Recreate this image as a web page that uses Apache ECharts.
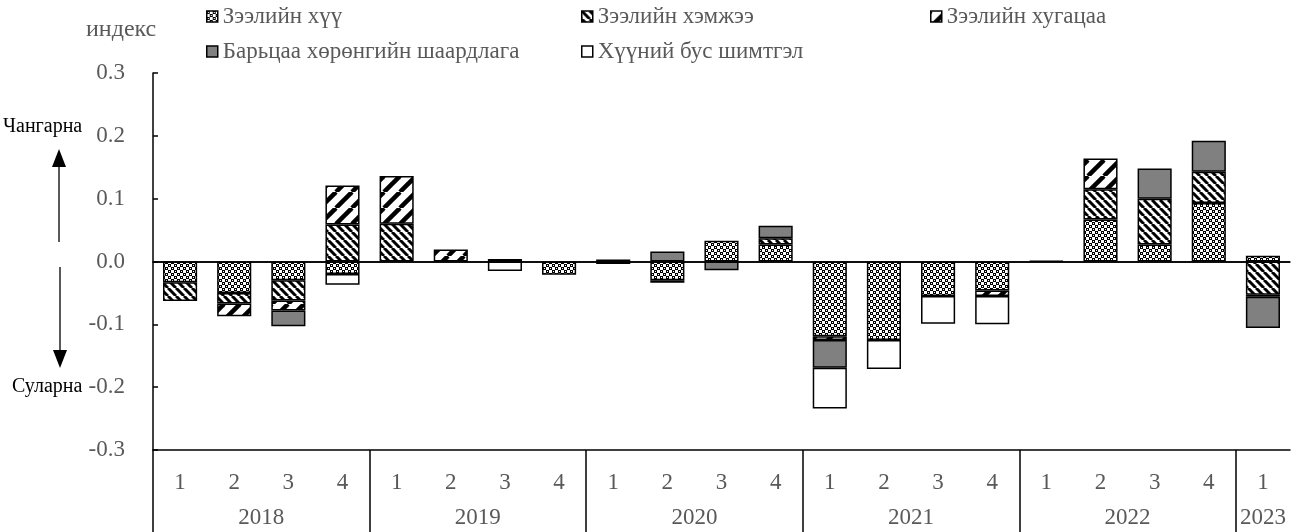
<!DOCTYPE html>
<html>
<head>
<meta charset="utf-8">
<script src="https://cdn.jsdelivr.net/npm/echarts@6/dist/echarts.min.js"></script>
<style>
html,body{margin:0;padding:0;background:#fff;}
#c{width:1293px;height:532px;}
</style>
</head>
<body>
<div id="c"></div>
<script>
// ---- data ----
const quarters = ['1','2','3','4','1','2','3','4','1','2','3','4','1','2','3','4','1','2','3','4','1'];
const years = ['2018','2019','2020','2021','2022','2023'];
const seriesNames = ['Зээлийн хүү','Зээлийн хэмжээ','Зээлийн хугацаа','Барьцаа хөрөнгийн шаардлага','Хүүний бус шимтгэл'];
const interestRate = [-0.033,-0.050,-0.030,-0.020, null,null,null,-0.021, null,-0.030,0.033,0.027, -0.119,-0.125,-0.055,-0.046, null,0.067,0.027,0.093, 0.009];
const loanAmount   = [-0.030,-0.017,-0.032,0.059, 0.060,null,null,null, -0.004,null,null,0.010, null,null,null,null, null,0.048,0.073,0.050, -0.053];
const loanTerm     = [null,-0.020,-0.016,0.062, 0.076,0.019,0.004,null, 0.003,-0.004,null,null, -0.006,null,null,-0.009, 0.001,0.049,null,null, -0.003];
const collateral   = [null,null,-0.025,null, null,null,null,null, null,0.016,-0.014,0.020, -0.044,null,null,null, null,null,0.048,0.049, -0.050];
const nonRateFees  = [null,null,null,-0.017, null,null,-0.015,null, null,null,null,null, -0.065,-0.046,-0.044,-0.045, null,null,null,null, null];
const yTicks = {min:-0.3, max:0.3, interval:0.1};

// ---- patterns ----
function tile(w, h, draw){
  const c = document.createElement('canvas');
  c.width = w; c.height = h;
  const g = c.getContext('2d');
  g.fillStyle = '#fff'; g.fillRect(0,0,w,h);
  draw(g, w, h);
  return {image: c, repeat: 'repeat'};
}
const patDots = tile(6,6,(g)=>{
  g.fillStyle = '#000';
  g.fillRect(0,0,3,3); g.fillRect(3,3,3,3);
  g.fillStyle = '#fff';
  g.fillRect(1,1,1,1); g.fillRect(4,4,1,1);
});
const patBack = tile(8,8,(g,w,h)=>{
  g.strokeStyle = '#000'; g.lineWidth = 3;
  for (let k=-1;k<=1;k++){ g.beginPath(); g.moveTo(k*w,0); g.lineTo(k*w+w,h); g.stroke(); }
});
const patFwd = tile(16,16,(g,w,h)=>{
  g.strokeStyle = '#000'; g.lineWidth = 4.5;
  for (let k=-1;k<=1;k++){ g.beginPath(); g.moveTo(k*w,h); g.lineTo(k*w+w,0); g.stroke(); }
});
const fills = [patDots, patBack, patFwd, '#808080', '#ffffff'];
const dataSets = [interestRate, loanAmount, loanTerm, collateral, nonRateFees];

// year axis built on half-quarter slots
const halfSlots = [];
for (let i=0;i<=quarters.length*2;i++) halfSlots.push('');
years.forEach((y,k)=>{
  const qStart = k*4, qCount = Math.min(4, quarters.length - qStart);
  halfSlots[qStart*2 + qCount] = y;
});

const FONT = 'Liberation Serif';
const GRAY = '#595959';

const series = seriesNames.map((n,i)=>{
  const s = {
    name: n, type: 'bar', stack: 'total', barWidth: '63%',
    data: dataSets[i],
    itemStyle: {color: fills[i], borderColor: '#000', borderWidth: 1.5},
    emphasis: {disabled: true}
  };
  if (i === 0) {
    s.markLine = {silent: true, symbol: ['none','none'], label: {show:false},
      lineStyle: {color:'#000', width:1.5, type:'solid'}, data: [{yAxis: 0}], animation:false};
  }
  return s;
});

const legendPos = [[206,5],[581,5],[930,5],[206,40],[581,40]];
const legends = seriesNames.map((n,i)=>({
  data: [n], left: legendPos[i][0], top: legendPos[i][1], padding: 0,
  itemWidth: 11, itemHeight: 11, icon: 'rect',
  itemStyle: {borderColor:'#000', borderWidth:1.5},
  textStyle: {fontFamily: FONT, fontSize: 23, color: GRAY}
}));

const chart = echarts.init(document.getElementById('c'), null, {renderer:'canvas'});
chart.setOption({
  animation: false,
  backgroundColor: '#fff',
  title: {text: 'индекс', left: 86, top: 18, padding: 0,
    textStyle: {fontFamily: FONT, fontSize: 24, fontWeight: 'normal', color: GRAY}},
  legend: legends,
  grid: {left: 153, top: 73, width: 1147, bottom: 82, containLabel: false},
  xAxis: [
    {type:'category', data: quarters, position:'bottom',
     axisLine:{show:true, lineStyle:{color:'#000', width:1.5}},
     axisTick:{show:false},
     axisLabel:{fontFamily: FONT, fontSize: 23, color: GRAY, margin: 21, interval: 0}},
    {type:'category', data: halfSlots, position:'bottom', boundaryGap:false,
     axisLine:{show:true, lineStyle:{color:'#000', width:1.5}},
     axisTick:{show:true, length: 82, inside:false, interval: (i)=> i % 8 === 0,
       lineStyle:{color:'#000', width:1.5}},
     axisLabel:{fontFamily: FONT, fontSize: 23, color: GRAY, margin: 56, interval: 0, hideOverlap:false}}
  ],
  yAxis: {type:'value', min: yTicks.min, max: yTicks.max, interval: yTicks.interval,
    axisLine:{show:true, lineStyle:{color:'#000', width:1.5}},
    axisTick:{show:true, inside:true, length:5, lineStyle:{color:'#000', width:1.5}},
    splitLine:{show:false},
    axisLabel:{fontFamily: FONT, fontSize: 23, color: GRAY, margin: 28,
      formatter: (v)=> (Math.abs(v) < 1e-9 ? 0 : v).toFixed(1)}},
  graphic: [
    {type:'text', left: 3, top: 117, style:{text:'Чангарна', fontFamily: FONT, fontSize: 20, fill:'#000'}},
    {type:'text', left: 12, top: 377, style:{text:'Суларна', fontFamily: FONT, fontSize: 20, fill:'#000'}},
    {type:'line', shape:{x1:59, y1:165, x2:59, y2:242}, style:{stroke:'#222', lineWidth:1.5}},
    {type:'polygon', shape:{points:[[59,149],[52,167],[66,167]]}, style:{fill:'#000'}},
    {type:'line', shape:{x1:60, y1:267, x2:60, y2:352}, style:{stroke:'#222', lineWidth:1.5}},
    {type:'polygon', shape:{points:[[60,368],[53,350],[67,350]]}, style:{fill:'#000'}}
  ],
  series: series
});
</script>
</body>
</html>
